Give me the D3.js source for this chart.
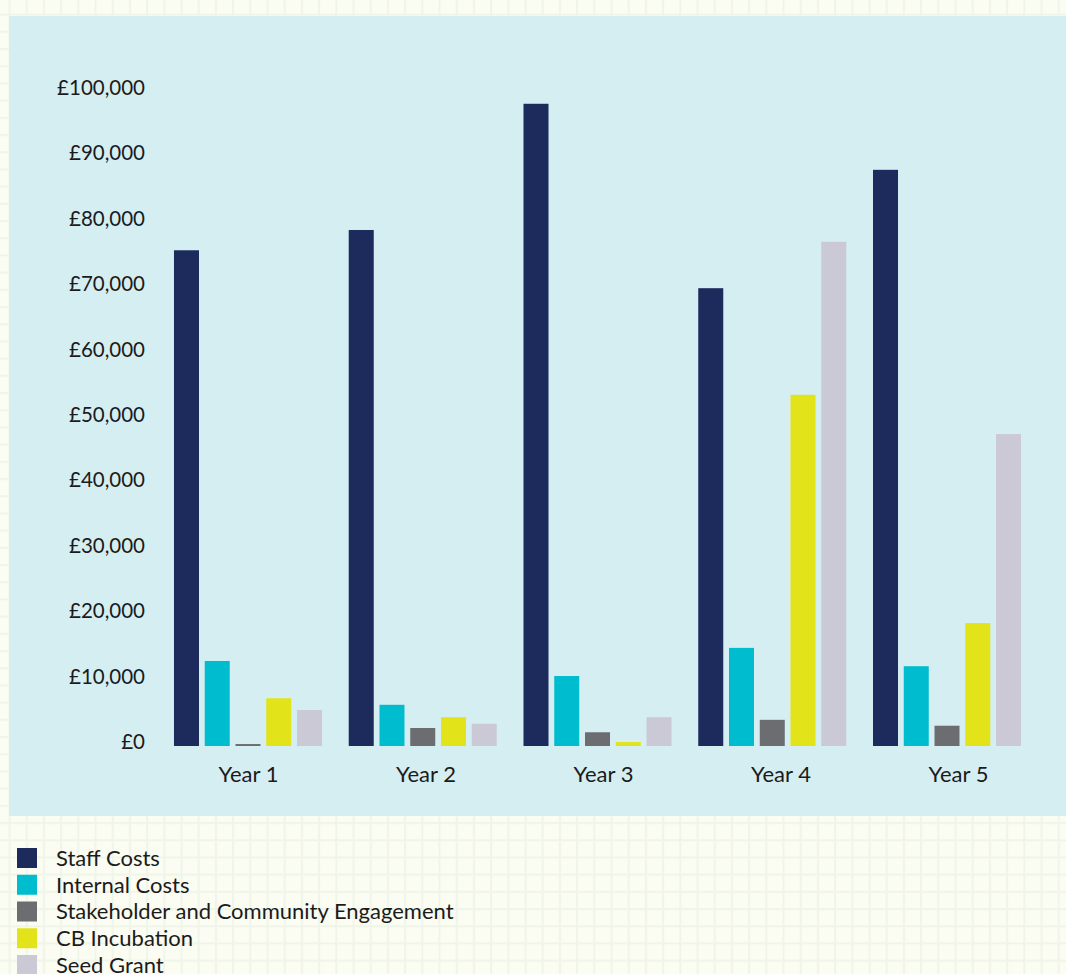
<!DOCTYPE html>
<html>
<head>
<meta charset="utf-8">
<script src="https://cdn.jsdelivr.net/npm/d3@7"></script>
<style>
  html, body { margin: 0; padding: 0; background: #fbfcf2; }
  svg { display: block; }
  text { font-family: Lato, "Open Sans", sans-serif; fill: #1b1b1b; }
</style>
</head>
<body>
<svg id="chart" width="1066" height="974"></svg>
<script>
const years = ["Year 1", "Year 2", "Year 3", "Year 4", "Year 5"];
const seriesNames = ["Staff Costs", "Internal Costs", "Stakeholder and Community Engagement", "CB Incubation", "Seed Grant"];
const seriesColors = ["#1c2a5c", "#00bccf", "#6c6d71", "#e2e419", "#cbc9d6"];
const staffCosts = [75800, 78900, 98200, 70000, 88100];
const internalCosts = [13000, 6300, 10700, 15000, 12200];
const stakeholderEngagement = [300, 2750, 2100, 4000, 3100];
const cbIncubation = [7300, 4400, 600, 53700, 18800];
const seedGrant = [5500, 3400, 4400, 77100, 47700];
const yTicks = [0, 10000, 20000, 30000, 40000, 50000, 60000, 70000, 80000, 90000, 100000];

const seriesValues = [staffCosts, internalCosts, stakeholderEngagement, cbIncubation, seedGrant];
const rows = years.map((yr, i) => ({
  year: yr,
  values: seriesNames.map((s, j) => ({ key: s, value: seriesValues[j][i] }))
}));

const svg = d3.select("#chart");
const W = 1066, H = 974;

// background grid pattern
const defs = svg.append("defs");
const pat = defs.append("pattern")
  .attr("id", "grid").attr("patternUnits", "userSpaceOnUse")
  .attr("width", 17.2).attr("height", 17.2)
  .attr("x", 8.5).attr("y", 13.6);
pat.append("rect").attr("width", 17.2).attr("height", 17.2).attr("fill", "#fbfcf2");
pat.append("rect").attr("x", 0).attr("y", 0).attr("width", 2).attr("height", 17.2).attr("fill", "#f0f5e9");
pat.append("rect").attr("x", 0).attr("y", 0).attr("width", 17.2).attr("height", 2).attr("fill", "#f0f5e9");
svg.append("rect").attr("width", W).attr("height", H).attr("fill", "url(#grid)");

// panel
svg.append("rect").attr("x", 9).attr("y", 16).attr("width", W - 9).attr("height", 800).attr("fill", "#d5eef2");

const y = d3.scaleLinear().domain([0, 100000]).range([746, 92]);
const x0 = d3.scaleBand().domain(years).range([160, 1035]).paddingInner(0.153).paddingOuter(0.08);
const x1 = d3.scaleBand().domain(seriesNames).range([0, x0.bandwidth()]).paddingInner(0.187).paddingOuter(0);
const xLabel = d3.scalePoint().domain(years).range([248, 958]);
const color = d3.scaleOrdinal().domain(seriesNames).range(seriesColors);

// y axis
const yAxis = svg.append("g").attr("transform", "translate(148,0)")
  .call(d3.axisLeft(y).tickValues(yTicks).tickSize(0).tickPadding(3)
    .tickFormat(d => "£" + d3.format(",")(d)));
yAxis.select(".domain").remove();
yAxis.selectAll("text").attr("y", -4).style("font-size", "20.5px").style("font-family", "Lato, sans-serif").attr("fill", "#1b1b1b");

// bars
const groups = svg.append("g").selectAll("g").data(rows).join("g")
  .attr("transform", d => `translate(${x0(d.year)},0)`);
groups.selectAll("rect").data(d => d.values).join("rect")
  .attr("x", d => x1(d.key))
  .attr("width", x1.bandwidth())
  .attr("y", d => y(d.value))
  .attr("height", d => y(0) - y(d.value))
  .attr("fill", d => color(d.key));

// x axis
const xAxis = svg.append("g").attr("transform", `translate(0,${y(0)})`)
  .call(d3.axisBottom(xLabel).tickSize(0).tickPadding(20));
xAxis.select(".domain").remove();
xAxis.selectAll("text").style("font-size", "22px").style("font-family", "Lato, sans-serif").attr("fill", "#1b1b1b");

// legend
const legend = svg.append("g").attr("transform", "translate(17,848)");
const li = legend.selectAll("g").data(seriesNames).join("g")
  .attr("transform", (d, i) => `translate(0,${i * 26.75})`);
li.append("rect").attr("width", 20).attr("height", 20).attr("fill", d => color(d));
li.append("text").attr("x", 39).attr("y", 10).attr("dy", "0.36em")
  .style("font-size", "22px").text(d => d);
</script>
</body>
</html>
